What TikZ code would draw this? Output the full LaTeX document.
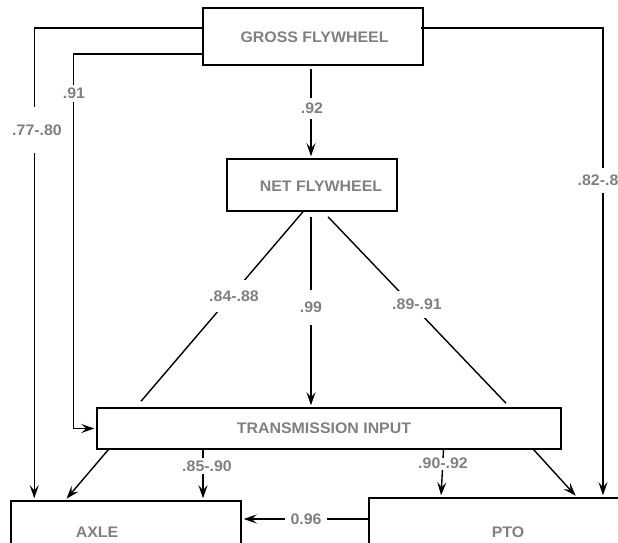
\documentclass[tikz,border=0pt]{standalone}
\usepackage{fontspec}
\usepackage{xcolor}
\usetikzlibrary{arrows.meta}
\setmainfont{Liberation Sans}[FakeStretch=1.04]
\definecolor{labelgray}{RGB}{128,128,128}

\begin{document}
\begin{tikzpicture}[x=1pt,y=-1pt,line width=1.4pt,
    box/.style={draw,line width=1.5pt,inner sep=0pt},
    boxtext/.style={text=labelgray,font=\bfseries\fontsize{15.3}{18}\selectfont,inner sep=0pt},
    efflabel/.style={text=labelgray,font=\bfseries\fontsize{15.3}{18}\selectfont,fill=white,inner xsep=2pt,inner ysep=0pt},
    arr/.style={-{Stealth[length=13pt,width=9pt,inset=5pt]},shorten >=2pt}]
    \useasboundingbox (0,0) rectangle (618,543);
    \clip (0,0) rectangle (618,543);
    \node[box,minimum width=220pt,minimum height=57pt] (gross) at (313,36.5) {};
    \node[box,minimum width=170pt,minimum height=52pt] (net) at (312,185) {};
    \node[box,minimum width=464pt,minimum height=41pt] (trans) at (329,428.5) {};
    \node[box,minimum width=230pt,minimum height=60pt] (axle) at (126,531) {};
    \node[box,minimum width=272pt,minimum height=62pt] (pto) at (505,529) {};
    \node[boxtext] (grosstext) at (314.5,37) {GROSS FLYWHEEL};
    \node[boxtext] (nettext) at (321,186) {NET FLYWHEEL};
    \node[boxtext] (transtext) at (324,428) {TRANSMISSION INPUT};
    \node[boxtext] (axletext) at (97,532) {AXLE};
    \node[boxtext] (ptotext) at (508,532) {PTO};
    \draw[arr] ([yshift=8.5pt]gross.west) -| ([xshift=24pt]axle.north west);
    \draw[arr] ([yshift=-17.5pt]gross.west) -| ([xshift=-23pt]trans.west) -- (trans.west);
    \draw[arr,shorten <=3pt] ([xshift=-2pt]gross.south) -- ([xshift=-1pt]net.north);
    \draw[arr] ([xshift=-3pt,yshift=8.5pt]gross.east) -| ([xshift=98pt]pto.north);
    \draw ([xshift=-9pt]net.south) -- ([xshift=-188pt,yshift=6pt]trans.north);
    \draw[arr,shorten <=5pt] ([xshift=-1pt]net.south) -- ([xshift=-18pt]trans.north);
    \draw ([xshift=16pt,yshift=-5pt]net.south) -- ([xshift=177pt,yshift=4pt]trans.north);
    \draw[arr] ([xshift=12pt]trans.south west) -- ([xshift=55pt]axle.north west);
    \draw[arr] ([xshift=-126pt]trans.south) -- ([xshift=77pt]axle.north);
    \draw[arr] ([xshift=114.5pt]trans.south) -- ([xshift=-64pt]pto.north);
    \draw[arr] ([xshift=-28pt]trans.south east) -- ([xshift=72pt]pto.north);
    \draw[arr] ([yshift=10pt]pto.west) -- ([yshift=10pt]pto.west -| axle.east);
    \node[efflabel,minimum height=46pt] (l7780) at (37,130) {.77-.80};
    \node[efflabel,minimum height=17pt] (l91) at (74,93) {.91};
    \node[efflabel,minimum height=21pt] (l92) at (312,108) {.92};
    \node[efflabel,minimum height=25pt] (l8285) at (598,180) {.82-.8};
    \node[efflabel,minimum height=32pt] (l8488) at (234,296) {.84-.88};
    \node[efflabel,minimum height=35pt] (l99) at (311,307) {.99};
    \node[efflabel,minimum height=27pt] (l8991) at (417,304) {.89-.91};
    \node[efflabel,minimum height=16pt] (l8590) at (207,466) {.85-.90};
    \node[efflabel,minimum height=12pt] (l9092) at (443,463.5) {.90-.92};
    \node[efflabel,minimum width=42pt] (l096) at (306,519) {0.96};
  \end{tikzpicture}
\end{document}
